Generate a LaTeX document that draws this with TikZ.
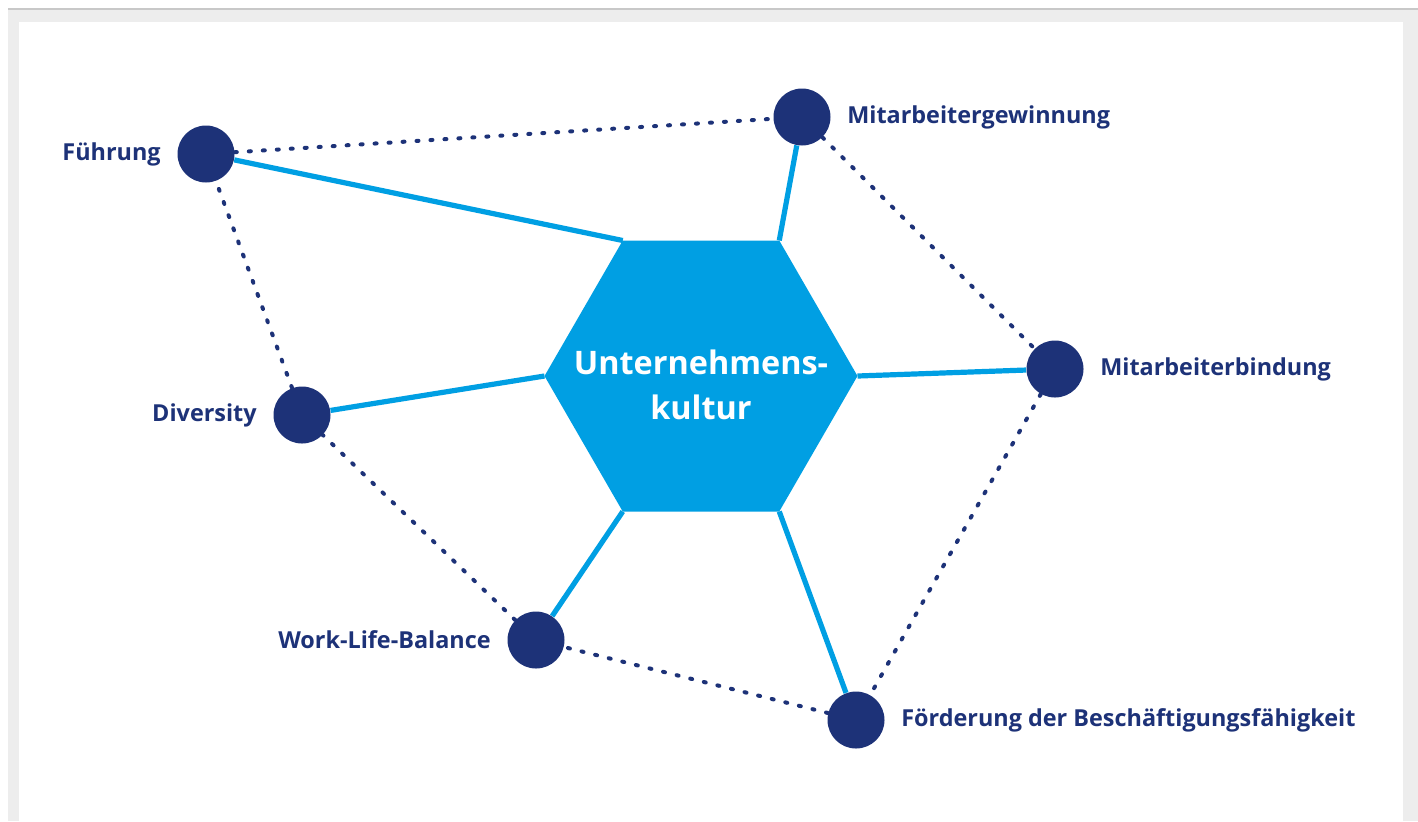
\documentclass[tikz,border=0pt]{standalone}
\usepackage{fontspec}
\setmainfont{Open Sans}

\begin{document}
\begin{tikzpicture}[x=0.5pt,y=-0.5pt,
  mynode/.style={circle,fill=navy,minimum size=28.5pt,inner sep=0pt},
  lbl/.style={text=navy,font=\bfseries\fontsize{11.7}{14}\selectfont,inner sep=8pt},
  solidlink/.style={draw=skyblue,line width=2.6pt},
  dotlink/.style={draw=navy,line width=2pt,line cap=round,dash pattern=on 1pt off 6pt}]
\definecolor{navy}{HTML}{1D3278}
\definecolor{skyblue}{HTML}{009FE3}
\definecolor{framegray}{HTML}{EDEDED}
\definecolor{framegrayline}{HTML}{C8C8C8}
\useasboundingbox (0,0) rectangle (1418,821);
% frame
\fill[framegray] (8,8) rectangle (1418,821);
\fill[white] (19,22) rectangle (1403,821);
\draw[framegrayline,line width=1pt] (8,9) -- (1418,9);
% centre hexagon
\coordinate (hex-nw) at (622.75,240.5);
\coordinate (hex-ne) at (779.25,240.5);
\coordinate (hex-e) at (857.5,376);
\coordinate (hex-se) at (779.25,511.5);
\coordinate (hex-sw) at (622.75,511.5);
\coordinate (hex-w) at (544.5,376);
\fill[skyblue] (hex-nw) -- (hex-ne) -- (hex-e) -- (hex-se) -- (hex-sw) -- (hex-w) -- cycle;
\node[text=white,font=\bfseries\fontsize{16.2}{22.5}\selectfont,align=center] (kultur) at (701,385) {Unternehmens-\\kultur};
% topics
\foreach \nm/\pos/\side/\txt in {fuehrung/{(206,154)}/left/Führung,
    gewinnung/{(802,117)}/right/Mitarbeitergewinnung,
    bindung/{(1055,369)}/right/Mitarbeiterbindung,
    diversity/{(302,415)}/left/Diversity,
    worklife/{(536,640)}/left/Work-Life-Balance,
    foerderung/{(856,720)}/right/Förderung der Beschäftigungsfähigkeit}
  {  \node [mynode,label={[lbl]\side:\txt}] (\nm) at \pos {};}
\foreach \nm/\c in {fuehrung/nw,diversity/w,worklife/sw,foerderung/se,bindung/e,gewinnung/ne}
  {  \draw[solidlink] (\nm) -- (hex-\c);}
\foreach \a/\b in {fuehrung/gewinnung,gewinnung/bindung,bindung/foerderung,foerderung/worklife,worklife/diversity,diversity/fuehrung}
  {  \draw[dotlink] (\a) -- (\b);}
\end{tikzpicture}
\end{document}
